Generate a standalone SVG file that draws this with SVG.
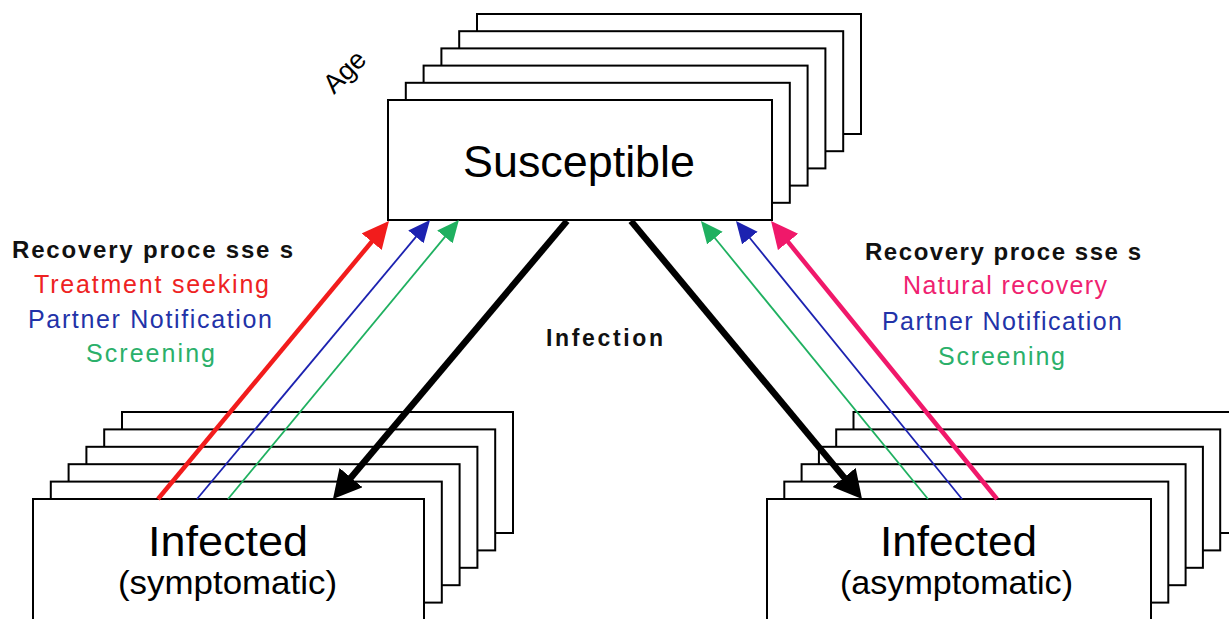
<svg xmlns="http://www.w3.org/2000/svg" width="1229" height="619" viewBox="0 0 1229 619">
<style>
.box{fill:#fff;stroke:#000;stroke-width:2}
.t{font-family:"Liberation Sans",Arial,sans-serif;fill:#000}
.b{font-family:"Liberation Sans",Arial,sans-serif;font-weight:bold;fill:#111}
.r{font-family:"Liberation Sans",Arial,sans-serif;font-size:25px}
.conn{fill:none;stroke-linecap:butt}
</style>
<defs>
<marker id="hRed" markerUnits="userSpaceOnUse" markerWidth="30" markerHeight="30" refX="2" refY="13" orient="auto"><path d="M0,0 L27,13 L0,26 z" fill="#f21c1c"/></marker>
<marker id="hPink" markerUnits="userSpaceOnUse" markerWidth="30" markerHeight="30" refX="2" refY="13" orient="auto"><path d="M0,0 L27,13 L0,26 z" fill="#f0186a"/></marker>
<marker id="hBlue" markerUnits="userSpaceOnUse" markerWidth="26" markerHeight="26" refX="2" refY="10" orient="auto"><path d="M0,0 L22,10 L0,20 z" fill="#1c22b0"/></marker>
<marker id="hGreen" markerUnits="userSpaceOnUse" markerWidth="26" markerHeight="26" refX="2" refY="10" orient="auto"><path d="M0,0 L22,10 L0,20 z" fill="#1fb060"/></marker>
<marker id="hBlack" markerUnits="userSpaceOnUse" markerWidth="32" markerHeight="34" refX="2" refY="15" orient="auto"><path d="M0,0 L28,15 L0,30 z" fill="#000"/></marker>
</defs>
<rect width="1229" height="619" fill="#fff"/>

<g id="susceptible">
<rect class="box" x="477" y="14" width="384" height="120"/>
<rect class="box" x="459.2" y="31.2" width="384" height="120"/>
<rect class="box" x="441.4" y="48.4" width="384" height="120"/>
<rect class="box" x="423.6" y="65.6" width="384" height="120"/>
<rect class="box" x="405.8" y="82.8" width="384" height="120"/>
<rect class="box" x="388" y="100" width="384" height="120"/>
<text class="t" x="463" y="177" font-size="44" textLength="232" lengthAdjust="spacingAndGlyphs">Susceptible</text>
</g>

<g id="age">
<text class="t" font-size="27" text-anchor="middle" transform="translate(351,78) rotate(-45)">Age</text>
</g>

<g id="infected-symptomatic">
<rect class="box" x="122" y="412" width="391" height="121"/>
<rect class="box" x="104.2" y="429.4" width="391" height="121"/>
<rect class="box" x="86.4" y="446.8" width="391" height="121"/>
<rect class="box" x="68.6" y="464.2" width="391" height="121"/>
<rect class="box" x="50.8" y="481.6" width="391" height="121"/>
<rect class="box" x="33" y="499" width="391" height="121"/>
<text class="t" x="148" y="556" font-size="42" textLength="160" lengthAdjust="spacingAndGlyphs">Infected</text>
<text class="t" x="118" y="594" font-size="34" textLength="219" lengthAdjust="spacingAndGlyphs">(symptomatic)</text>
</g>

<g id="infected-asymptomatic">
<rect class="box" x="853.5" y="412" width="384" height="121"/>
<rect class="box" x="836.2" y="429.4" width="384" height="121"/>
<rect class="box" x="818.9" y="446.8" width="384" height="121"/>
<rect class="box" x="801.6" y="464.2" width="384" height="121"/>
<rect class="box" x="784.3" y="481.6" width="384" height="121"/>
<rect class="box" x="767" y="499" width="384" height="121"/>
<text class="t" x="880" y="556" font-size="42" textLength="157" lengthAdjust="spacingAndGlyphs">Infected</text>
<text class="t" x="840" y="594" font-size="34" textLength="233" lengthAdjust="spacingAndGlyphs">(asymptomatic)</text>
</g>

<g id="labels-left">
<text class="b" x="12" y="258" font-size="24" textLength="281" lengthAdjust="spacing">Recovery proce sse s</text>
<text class="r" x="34" y="293" fill="#ee2222" textLength="235" lengthAdjust="spacing">Treatment seeking</text>
<text class="r" x="28" y="328" fill="#2232a8" textLength="244" lengthAdjust="spacing">Partner Notification</text>
<text class="r" x="86" y="362" fill="#2bb06a" textLength="129" lengthAdjust="spacing">Screening</text>
</g>

<g id="labels-right">
<text class="b" x="865" y="260" font-size="24" textLength="276" lengthAdjust="spacing">Recovery proce sse s</text>
<text class="r" x="903" y="294" fill="#ef2270" textLength="204" lengthAdjust="spacing">Natural recovery</text>
<text class="r" x="882" y="330" fill="#2232a8" textLength="240" lengthAdjust="spacing">Partner Notification</text>
<text class="r" x="938" y="365" fill="#2bb06a" textLength="127" lengthAdjust="spacing">Screening</text>
</g>

<g id="infection-label">
<text class="b" x="546" y="346" font-size="23" textLength="117" lengthAdjust="spacing">Infection</text>
</g>

<g id="connectors">
<line class="conn" x1="158" y1="499" x2="373" y2="240.2" stroke="#f21c1c" stroke-width="4.5" marker-end="url(#hRed)"/>
<line class="conn" x1="197" y1="499" x2="417.2" y2="235.4" stroke="#1c22b0" stroke-width="1.8" marker-end="url(#hBlue)"/>
<line class="conn" x1="228" y1="499" x2="446.2" y2="235.4" stroke="#1fb060" stroke-width="1.8" marker-end="url(#hGreen)"/>
<line class="conn" x1="567" y1="221" x2="349.7" y2="479.1" stroke="#000" stroke-width="6.5" marker-end="url(#hBlack)"/>
<line class="conn" x1="631" y1="221" x2="845.4" y2="479" stroke="#000" stroke-width="6.5" marker-end="url(#hBlack)"/>
<line class="conn" x1="928" y1="499" x2="713.6" y2="236.5" stroke="#1fb060" stroke-width="1.8" marker-end="url(#hGreen)"/>
<line class="conn" x1="962" y1="499" x2="748.6" y2="236.5" stroke="#1c22b0" stroke-width="1.8" marker-end="url(#hBlue)"/>
<line class="conn" x1="997" y1="499" x2="786.8" y2="240.4" stroke="#f0186a" stroke-width="4.5" marker-end="url(#hPink)"/>
</g>
</svg>
